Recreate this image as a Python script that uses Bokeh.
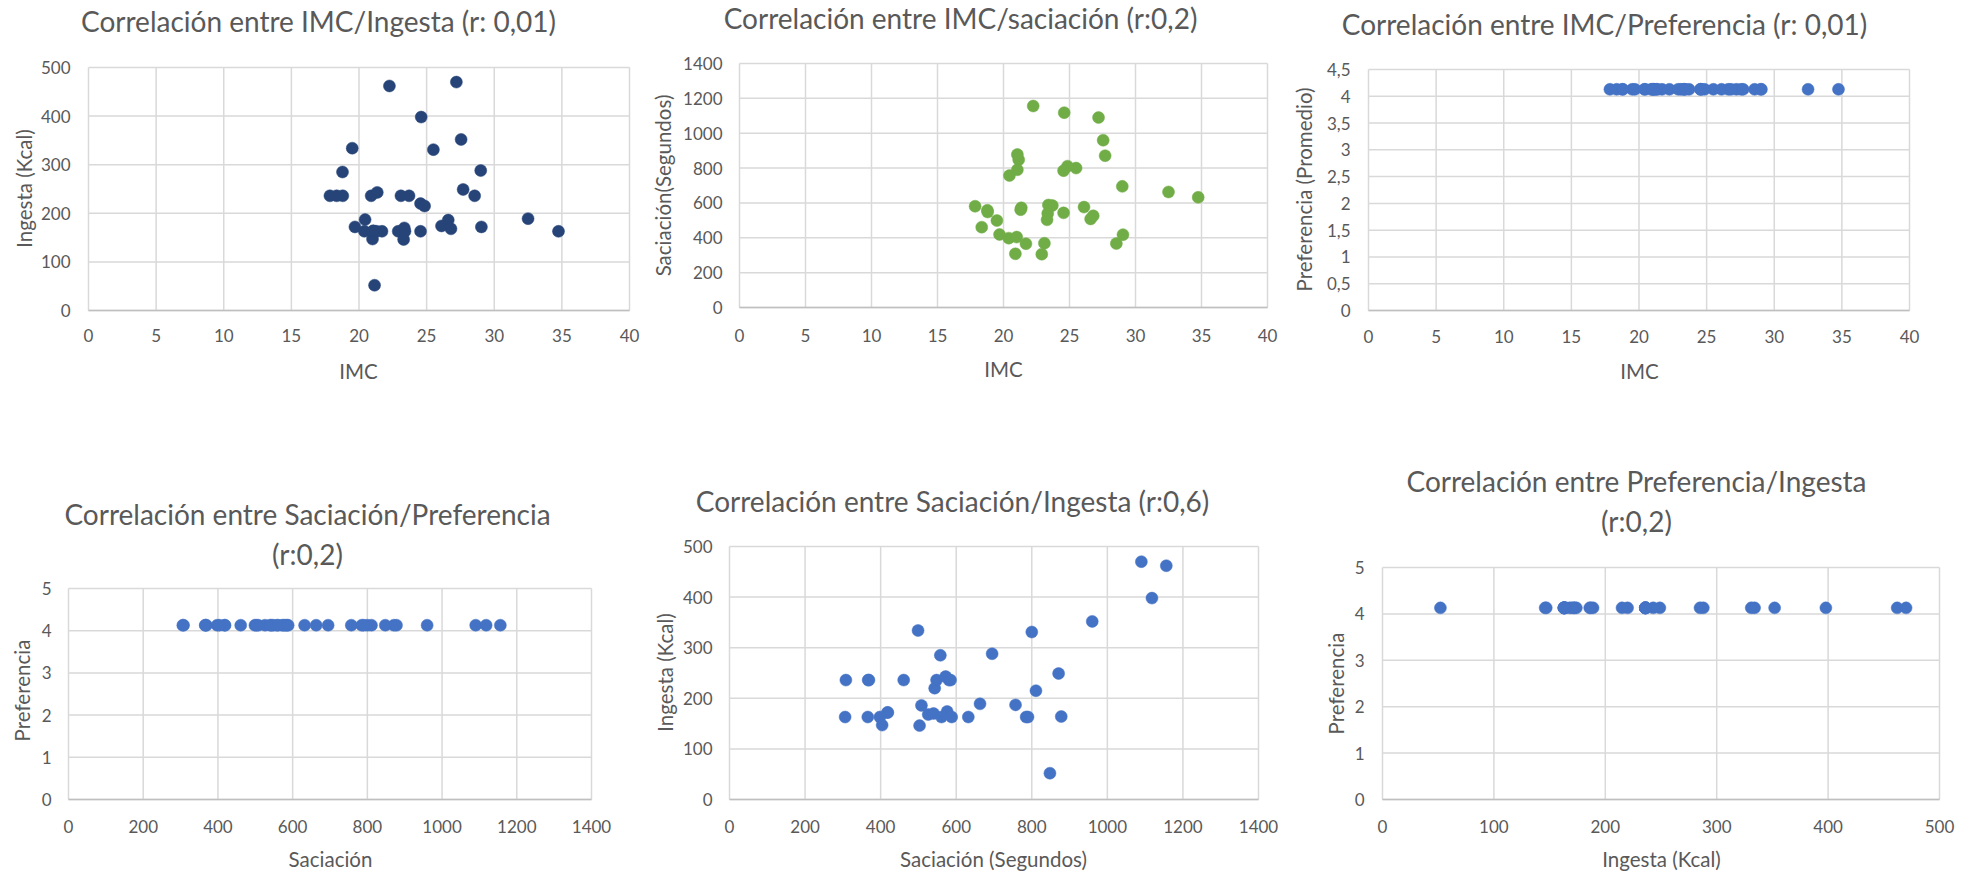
import math
from bokeh.plotting import figure
from bokeh.models import Range1d
from bokeh.layouts import column, row
from bokeh.core.properties import value
from bokeh.embed import file_html
from bokeh.resources import INLINE

# ---------------- data (one entry per participant) ----------------
imc = [22.25, 27.2, 24.6, 27.55, 19.5, 25.5, 29.0, 18.78, 21.15, 34.75,
       32.5, 27.7, 28.55, 29.05, 20.45, 26.6, 26.1, 26.8, 24.55, 24.85,
       24.55, 17.85, 18.35, 18.8, 20.9, 21.35, 23.1, 23.7, 22.9, 21.7,
       19.7, 20.4, 21.0, 23.3, 23.35, 21.3, 21.05, 21.05, 23.4]
ingesta = [462, 470, 398, 352, 334, 331, 288, 285, 52, 163,
           189, 249, 236, 172, 187, 186, 174, 168, 220, 215,
           163, 236, 236, 236, 236, 243, 236, 236, 163, 163,
           172, 163, 147, 146, 170, 163, 164, 163, 163]
saciacion = [1156, 1090, 1118, 960, 499, 800, 695, 558, 848, 632,
             663, 871, 367, 418, 757, 508, 576, 526, 543, 811,
             785, 581, 461, 548, 308, 572, 369, 585, 306, 366,
             419, 398, 404, 503, 540, 561, 878, 790, 588]
preferencia = [4.13, 4.13, 4.13, 4.13, 4.13, 4.13, 4.13, 4.13, 4.13, 4.13,
               4.13, 4.13, 4.13, 4.13, 4.13, 4.13, 4.13, 4.13, 4.13, 4.13,
               4.13, 4.13, 4.13, 4.13, 4.13, 4.13, 4.13, 4.13, 4.13, 4.13,
               4.13, 4.13, 4.13, 4.13, 4.13, 4.13, 4.13, 4.13, 4.13]

ticks_imc = [0, 5, 10, 15, 20, 25, 30, 35, 40]
ticks_ing = [0, 100, 200, 300, 400, 500]
ticks_sac = [0, 200, 400, 600, 800, 1000, 1200, 1400]
ticks_pref5 = [0, 1, 2, 3, 4, 5]
ticks_pref45 = [0, 0.5, 1, 1.5, 2, 2.5, 3, 3.5, 4, 4.5]
labels_pref45 = ["0", "0,5", "1", "1,5", "2", "2,5", "3", "3,5", "4", "4,5"]

FONT = "Lato"
GREY = "#595959"
GRID = "#D9D9D9"
AXIS = "#BFBFBF"
TITLE_SIZE = "28px"
TICK_SIZE = "17px"
AXT_SIZE = "20.5px"

DARK = "#264478"
GREEN = "#70AD47"
BLUE = "#4472C4"


class Chart:
    """A figure whose frame is its whole canvas; the plot area is placed
    inside it so that every text stays inside the frame."""

    def __init__(self, box, area, xr, yr):
        bx0, bx1, by0, by1 = box
        L, R, T, B = area
        self.L, self.B = L, B
        self.xr, self.yr = xr, yr
        self.ux = (xr[1] - xr[0]) / (R - L)
        self.uy = (yr[1] - yr[0]) / (B - T)
        p = figure(width=bx1 - bx0, height=by1 - by0,
                   x_range=Range1d(xr[0] - (L - bx0) * self.ux, xr[1] + (bx1 - R) * self.ux),
                   y_range=Range1d(yr[0] - (by1 - B) * self.uy, yr[1] + (T - by0) * self.uy),
                   x_axis_location=None, y_axis_location=None,
                   min_border=0, min_border_left=0, min_border_right=0,
                   min_border_top=0, min_border_bottom=0,
                   output_backend="svg", toolbar_location=None, tools="")
        p.outline_line_color = None
        p.background_fill_color = "white"
        p.border_fill_color = "white"
        for g in p.grid:
            g.visible = False
            g.grid_line_color = None
        self.p = p

    def data(self, px, py):
        return (self.xr[0] + (px - self.L) * self.ux,
                self.yr[0] + (self.B - py) * self.uy)

    def grid(self, xticks, yticks):
        x0, x1 = self.xr
        y0, y1 = self.yr
        self.p.segment(x0=xticks, y0=[y0] * len(xticks), x1=xticks, y1=[y1] * len(xticks),
                       line_color=GRID, line_width=1.5)
        self.p.segment(x0=[x0] * len(yticks), y0=yticks, x1=[x1] * len(yticks), y1=yticks,
                       line_color=GRID, line_width=1.5)
        self.p.segment(x0=[x0], y0=[y0], x1=[x1], y1=[y0], line_color=AXIS, line_width=1.5)

    def ticklabels(self, xticks, xlabels, x_py, yticks, ylabels, y_gap):
        tick_y = self.data(0, x_py)[1]
        self.p.text(x=xticks, y=[tick_y] * len(xticks), text=xlabels,
                    text_align="center", text_baseline="middle",
                    text_font=value(FONT), text_font_size=value(TICK_SIZE),
                    text_color=GREY)
        self.p.text(x=[self.xr[0]] * len(yticks), y=yticks, text=ylabels,
                    x_offset=-y_gap, text_align="right", text_baseline="middle",
                    text_font=value(FONT), text_font_size=value(TICK_SIZE),
                    text_color=GREY)

    def label(self, px, py, text, size, vertical=False):
        xd, yd = self.data(px, py)
        self.p.text(x=[xd], y=[yd], text=[text], angle=math.pi / 2 if vertical else 0,
                    text_align="center", text_baseline="middle",
                    text_font=value(FONT), text_font_size=value(size),
                    text_color=GREY)

    def points(self, xs, ys, color):
        self.p.scatter(xs, ys, size=12, fill_color=color, line_color=color, line_width=0.5)


def fmt(ticks):
    return [str(t) for t in ticks]


# ---------------- top row ----------------
c1 = Chart((0, 645, 0, 440), (88, 629, 67, 310), (0, 40), (0, 500))
c1.grid(ticks_imc, ticks_ing)
c1.ticklabels(ticks_imc, fmt(ticks_imc), 335, ticks_ing, fmt(ticks_ing), 18)
c1.points(imc, ingesta, DARK)
c1.label(318, 20, "Correlación entre IMC/Ingesta (r: 0,01)", TITLE_SIZE)
c1.label(23, 188, "Ingesta (Kcal)", AXT_SIZE, True)
c1.label(358, 370, "IMC", AXT_SIZE)

c2 = Chart((645, 1290, 0, 440), (739, 1267, 63, 307), (0, 40), (0, 1400))
c2.grid(ticks_imc, ticks_sac)
c2.ticklabels(ticks_imc, fmt(ticks_imc), 335, ticks_sac, fmt(ticks_sac), 17)
c2.points(imc, saciacion, GREEN)
c2.label(960, 17, "Correlación entre IMC/saciación (r:0,2)", TITLE_SIZE)
c2.label(662, 185, "Saciación(Segundos)", AXT_SIZE, True)
c2.label(1003, 368, "IMC", AXT_SIZE)

c3 = Chart((1290, 1974, 0, 440), (1368, 1909, 69, 310), (0, 40), (0, 4.5))
c3.grid(ticks_imc, ticks_pref45)
c3.ticklabels(ticks_imc, fmt(ticks_imc), 336, ticks_pref45, labels_pref45, 18)
c3.points(imc, preferencia, BLUE)
c3.label(1604, 23, "Correlación entre IMC/Preferencia (r: 0,01)", TITLE_SIZE)
c3.label(1303, 189, "Preferencia (Promedio)", AXT_SIZE, True)
c3.label(1639, 370, "IMC", AXT_SIZE)

# ---------------- bottom row ----------------
c4 = Chart((0, 645, 440, 872), (68, 591, 588, 799), (0, 1400), (0, 5))
c4.grid(ticks_sac, ticks_pref5)
c4.ticklabels(ticks_sac, fmt(ticks_sac), 826, ticks_pref5, fmt(ticks_pref5), 17)
c4.points(saciacion, preferencia, BLUE)
c4.label(307, 513, "Correlación entre Saciación/Preferencia", TITLE_SIZE)
c4.label(307, 553, "(r:0,2)", TITLE_SIZE)
c4.label(21, 690, "Preferencia", AXT_SIZE, True)
c4.label(330, 858, "Saciación", AXT_SIZE)

c5 = Chart((645, 1300, 440, 872), (729, 1258, 546, 799), (0, 1400), (0, 500))
c5.grid(ticks_sac, ticks_ing)
c5.ticklabels(ticks_sac, fmt(ticks_sac), 826, ticks_ing, fmt(ticks_ing), 17)
c5.points(saciacion, ingesta, BLUE)
c5.label(952, 500, "Correlación entre Saciación/Ingesta (r:0,6)", TITLE_SIZE)
c5.label(664, 672, "Ingesta (Kcal)", AXT_SIZE, True)
c5.label(993, 858, "Saciación (Segundos)", AXT_SIZE)

c6 = Chart((1300, 1974, 440, 872), (1382, 1939, 567, 799), (0, 500), (0, 5))
c6.grid(ticks_ing, ticks_pref5)
c6.ticklabels(ticks_ing, fmt(ticks_ing), 826, ticks_pref5, fmt(ticks_pref5), 18)
c6.points(ingesta, preferencia, BLUE)
c6.label(1636, 480, "Correlación entre Preferencia/Ingesta", TITLE_SIZE)
c6.label(1636, 520, "(r:0,2)", TITLE_SIZE)
c6.label(1335, 683, "Preferencia", AXT_SIZE, True)
c6.label(1661, 858, "Ingesta (Kcal)", AXT_SIZE)

layout = column(row(c1.p, c2.p, c3.p), row(c4.p, c5.p, c6.p))
open("out.html", "w").write(file_html(layout, INLINE))
